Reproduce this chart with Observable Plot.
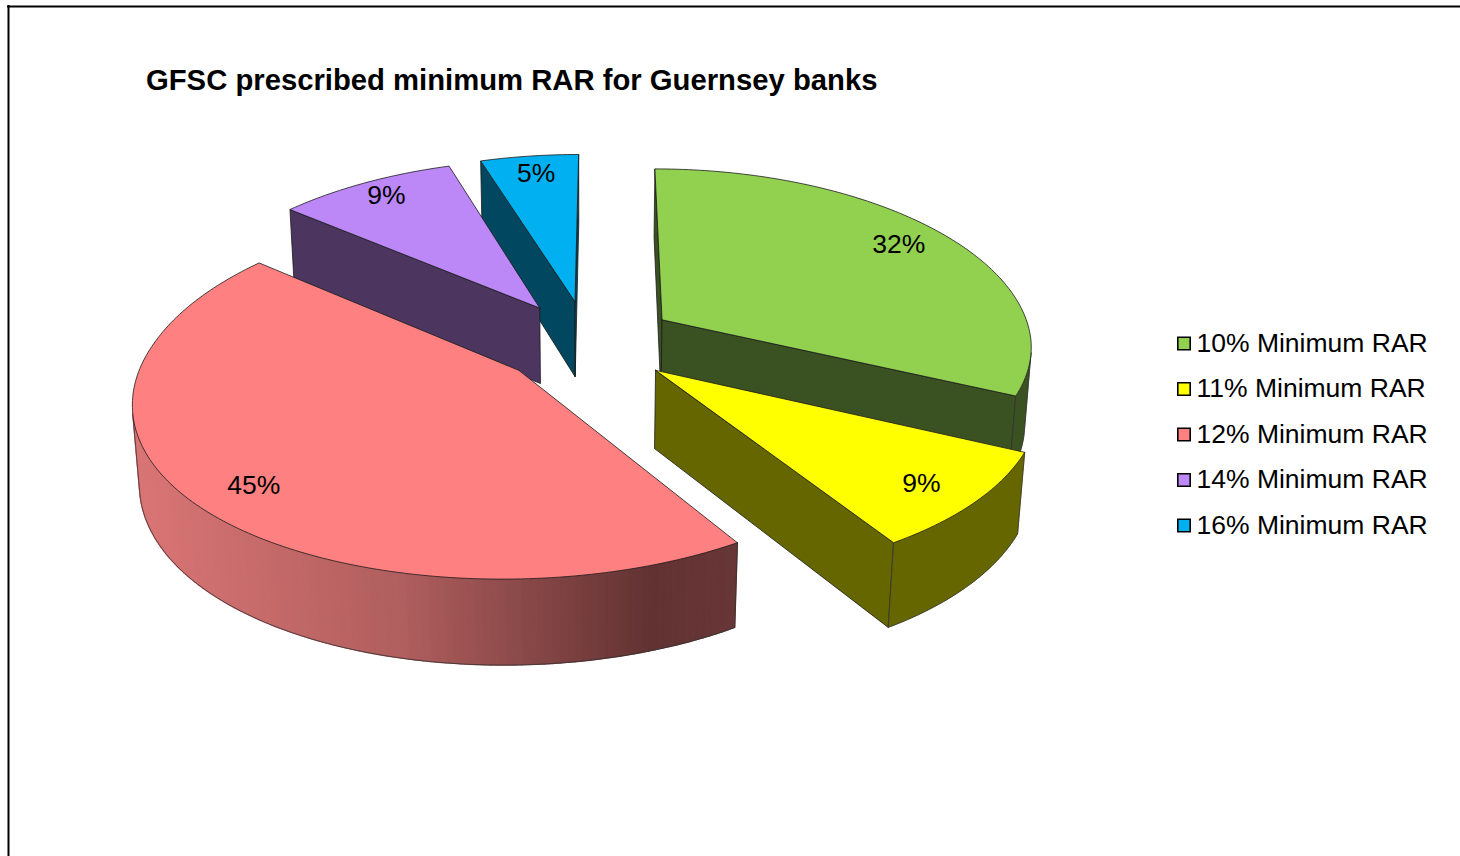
<!DOCTYPE html>
<html>
<head>
<meta charset="utf-8">
<script src="https://cdn.jsdelivr.net/npm/d3@7"></script>
<script src="https://cdn.jsdelivr.net/npm/@observablehq/plot@0.6"></script>
<style>
  html, body { margin: 0; padding: 0; background: #fff; overflow: hidden; }
  svg { display: block; }
</style>
</head>
<body>
<div id="chart"></div>
<script>
// Chart data
const categories = ["10% Minimum RAR", "11% Minimum RAR", "12% Minimum RAR", "14% Minimum RAR", "16% Minimum RAR"];
const shares = [32, 9, 45, 9, 5];
const topColors = ["#92D050", "#FFFF00", "#FF8080", "#BC87F7", "#00B0F0"];
const wallColors = ["#3A5222", "#666600", "#9C5252", "#4C3660", "#00475F"];
const title = "GFSC prescribed minimum RAR for Guernsey banks";

// Oblique view of the exploded pie: disc coordinates to page coordinates
const view = {cx: 587.5, cy: 341.5, rx: 371, ry: 175, perspX: 0.1445, perspY: 0.125, shearFront: 5, shearBack: 2, converge: 0.015, depth: 77, explode: 0.24, start: 0};
const labelReach = [0.846, 0.856, 0.85, 0.886, 0.865];
const labelTurn = [-1.3, 1, -2.3, 0.8, 0.3];
const redStops = d3.scaleLinear().domain([135, 400, 650, 735]).range(["#DA7575", "#B05E5E", "#623232", "#683636"]).clamp(true);

function project(X, Y, Z) {
  const wx = 1 + view.perspX * Y + view.converge * Z;
  const wy = 1 + view.perspY * Y;
  const shear = Y < 0 ? view.shearFront : view.shearBack;
  return [
    view.cx + view.rx * X / wx + shear * Y,
    view.cy - view.ry * Y / wy + view.depth * Z * (1 - 0.1 * Y)
  ];
}

// Signed area on the page; its sign tells which way a wall faces
function signedArea(pts) {
  return d3.sum(pts, (p, i) => {
    const q = pts[(i + 1) % pts.length];
    return p[0] * q[1] - q[0] * p[1];
  }) / 2;
}

const total = d3.sum(shares);
const rad = Math.PI / 180;
const polys = [];
const labels = [];
let nextId = 0;

function addPoly(points, fill, stroke, strokeWidth = 0.8) {
  const id = nextId++;
  for (const [x, y] of points) polys.push({id, x, y, fill, stroke, strokeWidth});
}

const cumulative = d3.cumsum(shares);
const slices = shares.map((s, i) => {
  const a0 = view.start + (cumulative[i] - s) / total * 360;
  const a1 = view.start + cumulative[i] / total * 360;
  const mid = (a0 + a1) / 2;
  return {
    i, a0, a1, mid,
    ax: view.explode * Math.sin(mid * rad),
    ay: view.explode * Math.cos(mid * rad)
  };
});

// Back slices are painted first so nearer ones overlap them
for (const idx of [4, 3, 0, 1, 2]) {
  const s = slices[idx];
  const rim = (deg) => [s.ax + Math.sin(deg * rad), s.ay + Math.cos(deg * rad)];
  const angles = d3.range(s.a0, s.a1, 1).concat([s.a1]);
  const apexTop = project(s.ax, s.ay, 0);
  const apexBottom = project(s.ax, s.ay, 1);
  const wall = wallColors[idx];

  // Radial cut faces, only those turned towards the viewer
  [[s.a0, -1], [s.a1, 1]].forEach(([deg, sign]) => {
    const [X, Y] = rim(deg);
    const t = project(X, Y, 0), b = project(X, Y, 1);
    const face = [apexTop, t, b, apexBottom];
    if (signedArea(face) * sign > 0) addPoly([...face, apexTop], wall, "#1a1a1a");
  });

  // Outer curved wall: front-facing stretch only
  const topEdge = angles.map((deg) => project(...rim(deg), 0));
  const bottomEdge = angles.map((deg) => project(...rim(deg), 1));
  const front = [];
  for (let k = 0; k < angles.length - 1; k++) {
    const quad = [topEdge[k], topEdge[k + 1], bottomEdge[k + 1], bottomEdge[k]];
    if (signedArea(quad) < 0) front.push(k);
  }
  if (front.length) {
    const first = front[0], last = front[front.length - 1] + 1;
    const topRun = topEdge.slice(first, last + 1);
    const bottomRun = bottomEdge.slice(first, last + 1);
    if (idx === 2) {
      // The large slice shades from light to dark across its rim
      for (const k of front) {
        const quad = [topEdge[k], topEdge[k + 1], bottomEdge[k + 1], bottomEdge[k], topEdge[k]];
        const c = redStops((quad[0][0] + quad[1][0]) / 2);
        addPoly(quad, c, c, 1.4);
      }
    } else {
      addPoly([...topRun, ...bottomRun.slice().reverse(), topRun[0]], wall, wall, 0.6);
    }
    addPoly([topRun[0], ...bottomRun, topRun[topRun.length - 1]], "none", "#333", 0.8);
  }

  // Top face
  addPoly([apexTop, ...topEdge, apexTop], topColors[idx], "#1a1a1a", 0.8);

  const r = labelReach[idx];
  const la = (s.mid + labelTurn[idx]) * rad;
  const [lx, ly] = project(s.ax + r * Math.sin(la), s.ay + r * Math.cos(la), 0);
  labels.push({text: `${shares[idx]}%`, x: lx, y: ly});
}

const legendRows = categories.map((name, i) => ({name, color: topColors[i], y: 343 + i * 45.5}));

const chart = Plot.plot({
  width: 1460,
  height: 856,
  margin: 0,
  x: {type: "identity", axis: null},
  y: {type: "identity", axis: null},
  color: {type: "identity"},
  style: {fontFamily: "'Liberation Sans', Arial, sans-serif", background: "#fff"},
  marks: [
    // Outer frame of the chart area
    Plot.ruleX([8], {y1: 5, y2: 856, stroke: "#000", strokeWidth: 2}),
    Plot.ruleY([6], {x1: 7, x2: 1460, stroke: "#000", strokeWidth: 2}),

    Plot.line(polys, {
      x: "x", y: "y", z: "id",
      fill: "fill", stroke: "stroke", strokeWidth: (d) => d.strokeWidth,
      curve: "linear"
    }),

    Plot.text(labels, {x: "x", y: "y", text: "text", fontSize: 26.5, fill: "#000"}),

    Plot.text([title], {x: () => 145.5, y: () => 80, text: (d) => d, textAnchor: "start", fontSize: 29.25, fontWeight: "bold", fill: "#000"}),

    Plot.dot(legendRows, {x: () => 1183.5, y: "y", r: 7, symbol: "square", fill: "color", stroke: "#000", strokeWidth: 1.6}),
    Plot.text(legendRows, {x: () => 1196, y: "y", text: "name", textAnchor: "start", fontSize: 26.5, fill: "#000"})
  ]
});
document.getElementById("chart").appendChild(chart);
</script>
</body>
</html>
